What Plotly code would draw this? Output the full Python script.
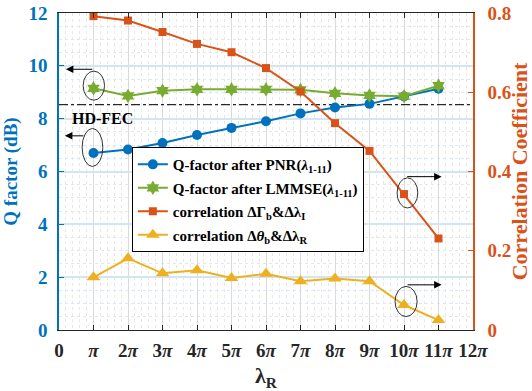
import plotly.graph_objects as go

# ---------------- data ----------------
x_vals = [1, 2, 3, 4, 5, 6, 7, 8, 9, 10, 11]          # multiples of pi
x_tickvals = list(range(0, 13))
x_ticktext = ["0", "<i>π</i>"] + [f"{k}<i>π</i>" for k in range(2, 13)]

q_pnr = [6.70, 6.83, 7.08, 7.38, 7.65, 7.90, 8.20, 8.42, 8.56, 8.84, 9.13]
q_lmmse = [9.15, 8.86, 9.06, 9.11, 9.11, 9.11, 9.09, 8.96, 8.88, 8.85, 9.25]
corr_gamma = [0.792, 0.781, 0.752, 0.722, 0.701, 0.661, 0.602, 0.522, 0.452, 0.343, 0.231]
corr_theta = [0.133, 0.181, 0.143, 0.151, 0.131, 0.142, 0.123, 0.130, 0.123, 0.063, 0.025]
hd_fec = 8.53
hd_fec_x = [0, 12]

names = [
    "Q-factor after PNR(<i>λ</i><sub>1-11</sub>)",
    "Q-factor after LMMSE(<i>λ</i><sub>1-11</sub>)",
    "correlation ΔΓ<sub>b</sub>&Δλ<sub>I</sub>",
    "correlation Δ<i>θ</i><sub>b</sub>&Δλ<sub>R</sub>",
]

BLUE = "#0072BD"
ORANGE = "#D95319"
YELLOW = "#EDB120"
GREEN = "#77AC30"
FONT = "Liberation Serif"

fig = go.Figure()

fig.add_trace(go.Scatter(x=hd_fec_x, y=[hd_fec, hd_fec], mode="lines",
                         line=dict(color="black", width=1, dash="dashdot"),
                         showlegend=False, hoverinfo="skip"))

fig.add_trace(go.Scatter(x=x_vals, y=q_pnr, name=names[0], legendgroup="a",
                         mode="lines+markers", line=dict(color=BLUE, width=2),
                         marker=dict(symbol="circle", size=10, color=BLUE)))
fig.add_trace(go.Scatter(x=x_vals, y=q_lmmse, name=names[1], legendgroup="b",
                         mode="lines+markers", line=dict(color=GREEN, width=2),
                         marker=dict(symbol="hexagram", size=11, color=GREEN)))
fig.add_trace(go.Scatter(x=x_vals, y=corr_gamma, name=names[2], legendgroup="c",
                         mode="lines+markers", line=dict(color=ORANGE, width=2),
                         marker=dict(symbol="square", size=8, color=ORANGE),
                         yaxis="y2"))
fig.add_trace(go.Scatter(x=x_vals, y=corr_theta, name=names[3], legendgroup="d",
                         mode="lines+markers", line=dict(color=YELLOW, width=2),
                         marker=dict(symbol="triangle-up", size=12, color=YELLOW),
                         yaxis="y2"))

# ellipses (annotation marks)
ell = dict(type="circle", line=dict(color="#333333", width=1), layer="above")
fig.add_shape(xref="x", yref="y", x0=0.70, x1=1.32, y0=8.70, y1=9.80, **ell)
fig.add_shape(xref="x", yref="y", x0=0.67, x1=1.27, y0=6.19, y1=7.63, **ell)
fig.add_shape(xref="x", yref="y2", x0=9.80, x1=10.40, y0=0.308, y1=0.384, **ell)
fig.add_shape(xref="x", yref="y2", x0=9.74, x1=10.38, y0=0.034, y1=0.110, **ell)

arr = dict(showarrow=True, arrowhead=2, arrowsize=1.5, arrowwidth=1,
           arrowcolor="black", text="")
fig.add_annotation(xref="x", yref="y", axref="x", ayref="y",
                   x=0.20, y=9.87, ax=1.01, ay=9.87, **arr)
fig.add_annotation(xref="x", yref="y", axref="x", ayref="y",
                   x=0.17, y=7.35, ax=0.75, ay=7.35, **arr)
fig.add_annotation(xref="x", yref="y2", axref="x", ayref="y2",
                   x=11.09, y=0.387, ax=10.05, ay=0.387, **arr)
fig.add_annotation(xref="x", yref="y2", axref="x", ayref="y2",
                   x=11.09, y=0.114, ax=10.06, ay=0.114, **arr)

fig.add_annotation(xref="x", yref="y", x=1.25, y=8.0, text="HD-FEC",
                   showarrow=False,
                   font=dict(family=FONT, size=16, color="black", weight="bold"))

fig.update_layout(
    width=532, height=391,
    margin=dict(l=59, r=59, t=13, b=61, autoexpand=False),
    paper_bgcolor="white", plot_bgcolor="white",
    font=dict(family=FONT, weight="bold", color="black"),
    showlegend=True,
    legend=dict(x=0.176, y=0.577, xanchor="left", yanchor="top",
                bgcolor="white", bordercolor="black", borderwidth=1,
                font=dict(family=FONT, size=15, color="black", weight="bold"),
                tracegroupgap=1, itemwidth=30),
    xaxis=dict(range=[0, 12], tickvals=x_tickvals, ticktext=x_ticktext,
               automargin=False,
               showline=True, linecolor="#262626", linewidth=1, mirror="ticks",
               ticks="inside", ticklen=5, tickcolor="#262626",
               showgrid=True, gridcolor="#dadada", gridwidth=1,
               zeroline=False, ticklabelstandoff=3,
               tickfont=dict(family=FONT, size=19, color="#262626", weight="bold"),
               minor=dict(dtick=0.2, showgrid=True, gridcolor="#e8e8e8",
                          griddash="dot", gridwidth=1),
               title=dict(text="λ<sub>R</sub>", standoff=8,
                          font=dict(family=FONT, size=22, color="#262626",
                                    weight="bold"))),
    yaxis=dict(range=[0, 12], dtick=2, showline=True, linecolor=BLUE,
               automargin=False,
               linewidth=1.5, ticks="inside", ticklen=5, tickcolor=BLUE,
               showgrid=True, gridcolor="#d3e4f3", gridwidth=1.5,
               zeroline=False, ticklabelstandoff=6,
               tickfont=dict(family=FONT, size=19, color=BLUE, weight="bold"),
               minor=dict(dtick=0.5, showgrid=True, gridcolor="#dce9f5",
                          griddash="dot", gridwidth=1),
               title=dict(text="Q factor (dB)", standoff=6,
                          font=dict(family=FONT, size=19, color=BLUE,
                                    weight="bold"))),
    yaxis2=dict(range=[0, 0.8], overlaying="y", side="right",
                automargin=False,
                showline=True, linecolor=ORANGE, linewidth=1.5,
                ticks="inside", ticklen=5, tickcolor=ORANGE,
                showgrid=False, zeroline=False, ticklabelstandoff=9,
                tickvals=[0, 0.2, 0.4, 0.6, 0.8],
                ticktext=["0", "0.2", "0.4", "0.6", "0.8"],
                tickfont=dict(family=FONT, size=19, color=ORANGE, weight="bold"),
                title=dict(text="Correlation Coefficient", standoff=4,
                           font=dict(family=FONT, size=22, color=ORANGE,
                                     weight="bold"))),
)

fig.write_html("out.html", config={"displayModeBar": False},
               post_script="document.body.style.margin='0px';"
                           "document.body.style.overflow='hidden';")
